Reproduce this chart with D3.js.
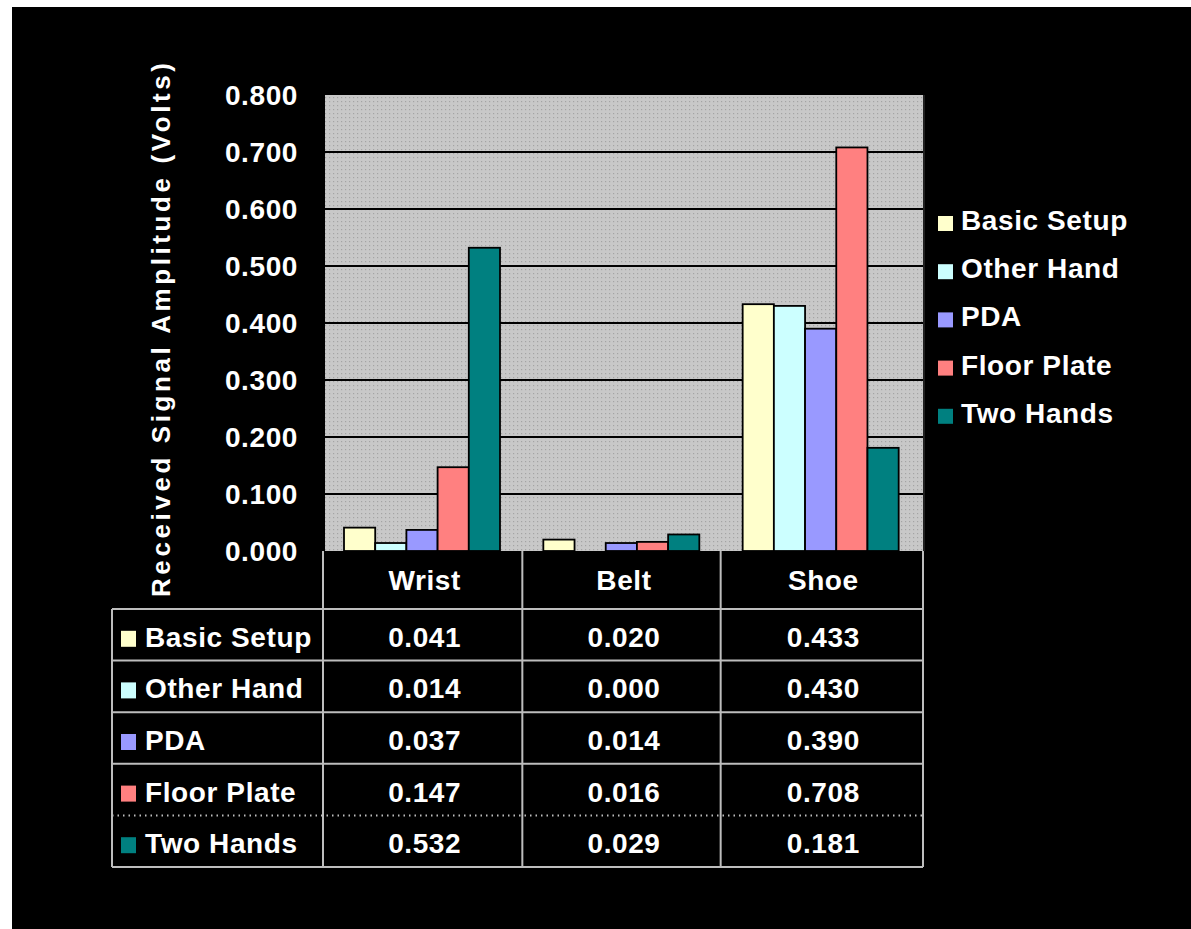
<!DOCTYPE html>
<html>
<head>
<meta charset="utf-8">
<script src="https://cdn.jsdelivr.net/npm/d3@7/dist/d3.min.js"></script>
<style>
  html, body { margin: 0; padding: 0; background: #ffffff; }
  svg { display: block; }
  text { font-family: "Liberation Sans", Arial, sans-serif; font-weight: bold; fill: #ffffff; }
</style>
</head>
<body>
<svg id="chart" width="1191" height="929"></svg>
<script>
// Received signal amplitude per electrode placement
const categories = ["Wrist", "Belt", "Shoe"];
const seriesNames = ["Basic Setup", "Other Hand", "PDA", "Floor Plate", "Two Hands"];
const basicSetup = [0.041, 0.020, 0.433];
const otherHand  = [0.014, 0.000, 0.430];
const pda        = [0.037, 0.014, 0.390];
const floorPlate = [0.147, 0.016, 0.708];
const twoHands   = [0.532, 0.029, 0.181];
const seriesColors = ["#ffffcc", "#ccffff", "#9999ff", "#ff8080", "#008080"];
const yTicks = [0, 0.1, 0.2, 0.3, 0.4, 0.5, 0.6, 0.7, 0.8];
const yTitle = "Received Signal Amplitude (Volts)";

const seriesValues = [basicSetup, otherHand, pda, floorPlate, twoHands];
const series = seriesNames.map((name, i) => ({ name, color: seriesColors[i], values: seriesValues[i] }));

const svg = d3.select("#chart");
const fmt = d3.format(".3f");

// dark backdrop
svg.append("rect").attr("x", 12).attr("y", 7).attr("width", 1179).attr("height", 922).attr("fill", "#000000");

const plot = { left: 325, right: 923, top: 95, bottom: 551 };

const x = d3.scaleBand().domain(categories).range([plot.left, plot.right]).padding(0);
const xInner = d3.scaleBand().domain(seriesNames).range([19, 19 + 156]).padding(0);
const y = d3.scaleLinear().domain([0, 0.8]).range([plot.bottom, plot.top]);

// stippled grey plot-area fill
const defs = svg.append("defs");
const pat = defs.append("pattern").attr("id", "stipple").attr("width", 4).attr("height", 4)
  .attr("patternUnits", "userSpaceOnUse");
pat.append("rect").attr("width", 4).attr("height", 4).attr("fill", "#c8c8c8");
pat.append("rect").attr("x", 1).attr("y", 1).attr("width", 1.2).attr("height", 1.2).attr("fill", "#a4a4a4");

svg.append("rect")
  .attr("x", plot.left).attr("y", plot.top)
  .attr("width", plot.right - plot.left).attr("height", plot.bottom - plot.top)
  .attr("fill", "url(#stipple)");

// horizontal gridlines
svg.append("g").selectAll("line")
  .data(yTicks.filter(t => t > 0 && t < 0.8))
  .join("line")
  .attr("x1", plot.left).attr("x2", plot.right)
  .attr("y1", d => y(d)).attr("y2", d => y(d))
  .attr("stroke", "#000000").attr("stroke-width", 2);

// bars
const groups = svg.append("g").selectAll("g")
  .data(series)
  .join("g")
  .attr("fill", d => d.color);

groups.selectAll("rect")
  .data(s => s.values.map((v, i) => ({ name: s.name, cat: categories[i], v })).filter(d => d.v > 0))
  .join("rect")
  .attr("x", d => x(d.cat) + xInner(d.name))
  .attr("y", d => y(d.v))
  .attr("width", xInner.bandwidth())
  .attr("height", d => y(0) - y(d.v))
  .attr("stroke", "#000000")
  .attr("stroke-width", 1.8);

// right edge of plot area
svg.append("line").attr("x1", plot.right + 1).attr("x2", plot.right + 1)
  .attr("y1", plot.top).attr("y2", plot.bottom).attr("stroke", "#202020").attr("stroke-width", 2);

// y axis tick labels
svg.append("g").selectAll("text")
  .data(yTicks)
  .join("text")
  .attr("x", 298)
  .attr("y", d => y(d))
  .attr("dy", "0.36em")
  .attr("text-anchor", "end")
  .attr("font-size", 28)
  .attr("letter-spacing", 0.6)
  .text(d => fmt(d));

// y axis title
svg.append("text")
  .attr("transform", "translate(170,330) rotate(-90)")
  .attr("text-anchor", "middle")
  .attr("font-size", 26)
  .attr("textLength", 534)
  .attr("lengthAdjust", "spacing")
  .text(yTitle);

// legend to the right
const legend = svg.append("g").selectAll("g")
  .data(series)
  .join("g")
  .attr("transform", (d, i) => `translate(938,${220 + i * 48.2})`);
legend.append("rect").attr("x", 0).attr("y", -4).attr("width", 15).attr("height", 15).attr("fill", d => d.color);
legend.append("text").attr("x", 23).attr("dy", "0.36em").attr("font-size", 28).attr("letter-spacing", 0.6)
  .text(d => d.name);

// data table below the plot
const table = { left: 112, labelRight: 323, headerTop: 551, headerBottom: 609, rowH: 51.6 };
const rowTop = i => table.headerBottom + i * table.rowH;
const tableBottom = rowTop(series.length);
const lineColor = "#bdbdbd";
const tg = svg.append("g");

// header cells
tg.selectAll("text.head")
  .data(categories)
  .join("text")
  .attr("class", "head")
  .attr("x", d => x(d) + x.bandwidth() / 2)
  .attr("y", (table.headerTop + table.headerBottom) / 2)
  .attr("dy", "0.36em")
  .attr("text-anchor", "middle")
  .attr("font-size", 28)
  .attr("letter-spacing", 0.6)
  .text(d => d);

// vertical rules
const vRules = [
  { x: table.left, y1: table.headerBottom },
  { x: table.labelRight, y1: table.headerTop },
  { x: x("Belt") - 2, y1: table.headerTop },
  { x: x("Shoe") - 3, y1: table.headerTop },
  { x: plot.right, y1: table.headerTop }
];
tg.selectAll("line.v")
  .data(vRules)
  .join("line")
  .attr("x1", d => d.x).attr("x2", d => d.x)
  .attr("y1", d => d.y1).attr("y2", tableBottom)
  .attr("stroke", lineColor).attr("stroke-width", 2);

// horizontal rules
tg.selectAll("line.h")
  .data(d3.range(series.length + 1))
  .join("line")
  .attr("x1", table.left).attr("x2", plot.right)
  .attr("y1", i => rowTop(i)).attr("y2", i => rowTop(i))
  .attr("stroke", lineColor).attr("stroke-width", 2)
  .attr("stroke-dasharray", i => i === 4 ? "1.5,4" : null);

// rows
const rows = tg.selectAll("g.row")
  .data(series)
  .join("g")
  .attr("class", "row")
  .attr("transform", (d, i) => `translate(0,${rowTop(i) + table.rowH / 2 + 2})`);
rows.append("rect").attr("x", 121).attr("y", -6).attr("width", 15).attr("height", 16).attr("fill", d => d.color);
rows.append("text").attr("x", 145).attr("dy", "0.36em").attr("font-size", 28).attr("letter-spacing", 0.6)
  .text(d => d.name);
rows.selectAll("text.val")
  .data(d => d.values.map((v, i) => ({ v, cat: categories[i] })))
  .join("text")
  .attr("class", "val")
  .attr("x", d => x(d.cat) + x.bandwidth() / 2)
  .attr("dy", "0.36em")
  .attr("text-anchor", "middle")
  .attr("font-size", 28)
  .attr("letter-spacing", 0.6)
  .text(d => fmt(d.v));
</script>
</body>
</html>
